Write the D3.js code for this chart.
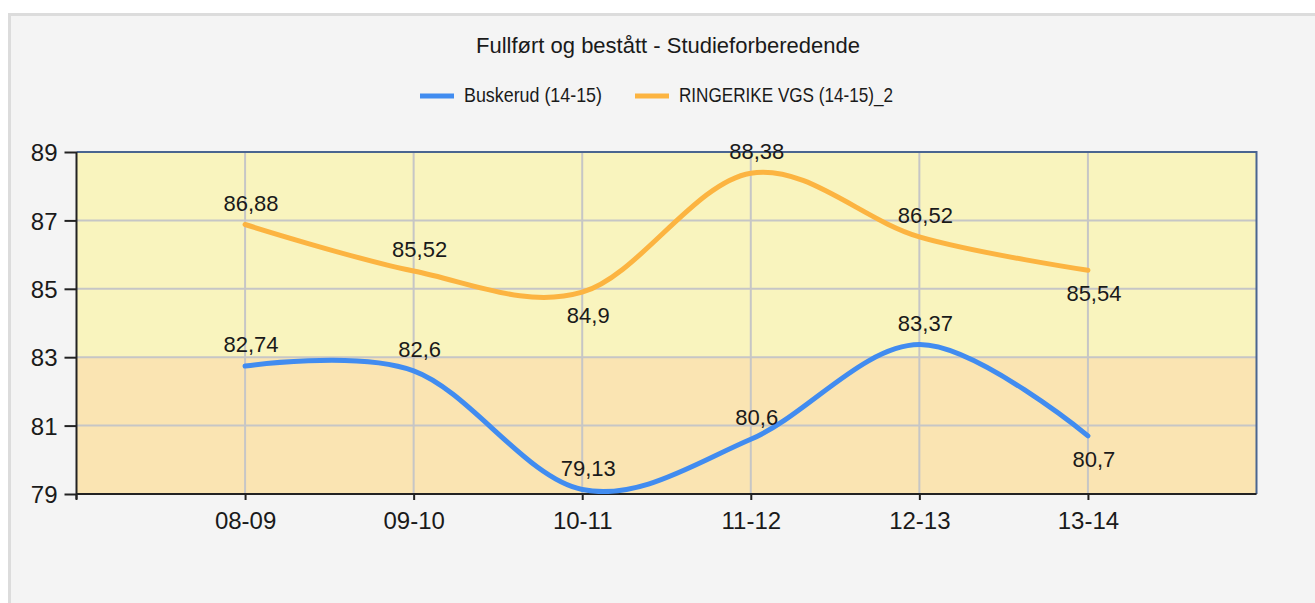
<!DOCTYPE html>
<html>
<head>
<meta charset="utf-8">
<script src="https://cdn.jsdelivr.net/npm/d3@7"></script>
<style>
	body { margin: 0; background: #fff; overflow: hidden; }
	text { font-family: "Liberation Sans", Arial, sans-serif; fill: #1a1a1a; }
</style>
</head>
<body>
<script>
var categories = ["08-09", "09-10", "10-11", "11-12", "12-13", "13-14"];
var buskerud = [82.74, 82.6, 79.13, 80.6, 83.37, 80.7];
var ringerike = [86.88, 85.52, 84.9, 88.38, 86.52, 85.54];
var yTicks = [79, 81, 83, 85, 87, 89];
var seriesNames = ["Buskerud (14-15)", "RINGERIKE VGS (14-15)_2"];
var bands = [[79, 83], [83, 89]];

var W = 1315, H = 603;
var margin = {top: 152, right: 58.5, bottom: 109, left: 76.5},
	width = W - margin.left - margin.right,
	height = H - margin.top - margin.bottom;

var svg = d3.select("body").append("svg")
	.attr("width", W)
	.attr("height", H);

// outer panel
svg.append("rect")
	.attr("x", 9.5).attr("y", 14.5)
	.attr("width", W + 20).attr("height", H + 20)
	.attr("fill", "#f4f4f4")
	.attr("stroke", "#dcdcdc")
	.attr("stroke-width", 3);

svg.append("text")
	.attr("x", 668).attr("y", 53)
	.attr("text-anchor", "middle")
	.attr("font-size", "22px")
	.text("Fullført og bestått - Studieforberedende");

var colors = ["#418CF0", "#FCB441"];

// legend (narrow font in the original, so squeeze the text)
var legend = svg.append("g").attr("class", "legend");
var legendX = [420, 635];
var legendLen = [138, 214];
seriesNames.forEach(function (name, i) {
	legend.append("line")
		.attr("x1", legendX[i]).attr("x2", legendX[i] + 34)
		.attr("y1", 96).attr("y2", 96)
		.attr("stroke", colors[i])
		.attr("stroke-width", 5);
	legend.append("text")
		.attr("x", legendX[i] + 44).attr("y", 102)
		.attr("font-size", "21px")
		.attr("textLength", legendLen[i])
		.attr("lengthAdjust", "spacingAndGlyphs")
		.text(name);
});

var x = d3.scalePoint().domain(categories).range([0, width]).padding(1);
var y = d3.scaleLinear().domain([79, 89]).range([height, 0]);

var g = svg.append("g")
	.attr("transform", "translate(" + margin.left + "," + margin.top + ")");

var bandColors = ["#FAE4B2", "#F9F4BE"];
g.selectAll("rect.band")
	.data(bands)
	.enter().append("rect")
	.attr("class", "band")
	.attr("x", 0)
	.attr("width", width)
	.attr("y", function (d) { return y(d[1]); })
	.attr("height", function (d) { return y(d[0]) - y(d[1]); })
	.attr("fill", function (d, i) { return bandColors[i]; });

// gridlines
g.selectAll("line.hgrid")
	.data(yTicks)
	.enter().append("line")
	.attr("class", "hgrid")
	.attr("x1", 0).attr("x2", width)
	.attr("y1", function (d) { return y(d); })
	.attr("y2", function (d) { return y(d); })
	.attr("stroke", "#c6c6c6")
	.attr("stroke-width", 2);

g.selectAll("line.vgrid")
	.data(categories)
	.enter().append("line")
	.attr("class", "vgrid")
	.attr("x1", function (d) { return x(d); })
	.attr("x2", function (d) { return x(d); })
	.attr("y1", 0).attr("y2", height)
	.attr("stroke", "#c6c6c6")
	.attr("stroke-width", 2);

// plot border top/right
g.append("path")
	.attr("d", "M0,0H" + width + "V" + height)
	.attr("fill", "none")
	.attr("stroke", "#4a6590")
	.attr("stroke-width", 2);

// axes
var yAxis = g.append("g")
	.call(d3.axisLeft(y).tickValues(yTicks).tickSize(12).tickPadding(7));
var xAxis = g.append("g")
	.attr("transform", "translate(0," + height + ")")
	.call(d3.axisBottom(x).tickSize(6).tickPadding(12));

[yAxis, xAxis].forEach(function (ax) {
	ax.selectAll("path.domain").attr("stroke", "#222").attr("stroke-width", 2);
	ax.selectAll(".tick line").attr("stroke", "#222").attr("stroke-width", 2);
	ax.selectAll("text")
		.attr("fill", "#1a1a1a")
		.attr("font-size", "24px")
		.attr("font-family", "Liberation Sans, Arial, sans-serif");
});
yAxis.select("path.domain").attr("d", "M0,0V" + (height + 5));
yAxis.selectAll(".tick text").attr("dy", "0.36em");
xAxis.select("path.domain").attr("d", "M0,0H" + width);
xAxis.append("line")
	.attr("x1", 0).attr("x2", 0).attr("y1", 0).attr("y2", 6)
	.attr("stroke", "#222").attr("stroke-width", 2);

var line = d3.line()
	.x(function (d, i) { return x(categories[i]); })
	.y(function (d) { return y(d); })
	.curve(d3.curveCardinal.tension(0));

var allSeries = [buskerud, ringerike];
var clipId = "plotclip";
g.append("clipPath").attr("id", clipId)
	.append("rect").attr("x", 0).attr("y", -10).attr("width", width).attr("height", height + 10);

allSeries.forEach(function (s, i) {
	g.append("path")
		.datum(s)
		.attr("clip-path", "url(#" + clipId + ")")
		.attr("fill", "none")
		.attr("stroke", colors[i])
		.attr("stroke-width", 5)
		.attr("stroke-linecap", "round")
		.attr("d", line);
});

// label placement: which points get their label below the point
var below = [[5], [2, 5]];
allSeries.forEach(function (s, i) {
	g.selectAll("text.lbl" + i)
		.data(s)
		.enter().append("text")
		.attr("class", "lbl" + i)
		.attr("x", function (d, j) { return x(categories[j]) + 6; })
		.attr("y", function (d, j) {
			return below[i].indexOf(j) >= 0 ? y(d) + 31 : y(d) - 14;
		})
		.attr("text-anchor", "middle")
		.attr("font-size", "22px")
		.text(function (d) { return String(d).replace(".", ","); });
});
</script>
</body>
</html>
